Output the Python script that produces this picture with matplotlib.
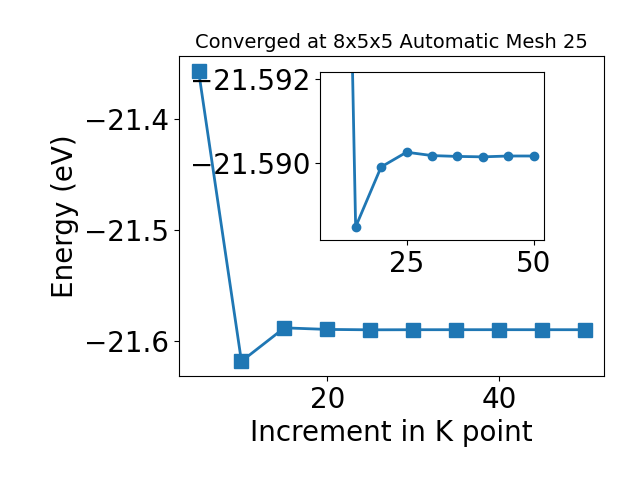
import numpy as np
import matplotlib.pyplot as plt
from matplotlib.ticker import MultipleLocator

# K point convergence test
kpoints = [5, 10, 15, 20, 25, 30, 35, 40, 45, 50]
energy = [-21.3563, -21.6187, -21.58849, -21.58991, -21.59026,
          -21.59018, -21.59016, -21.59015, -21.59017, -21.59017]

plt.rcParams['font.size'] = 20

fig = plt.figure(figsize=(6.4, 4.8))
ax = fig.add_subplot(111)
ax.plot(kpoints, energy, marker='s', markersize=10, linewidth=2)
ax.set_xlabel('Increment in K point')
ax.set_ylabel('Energy (eV)')
ax.set_title('Converged at 8x5x5 Automatic Mesh 25', fontsize=14)
ax.xaxis.set_major_locator(MultipleLocator(20))
fig.subplots_adjust(left=0.280, right=0.944, top=0.883, bottom=0.217)

# zoom on the converged region
ins = fig.add_axes([0.5, 0.5, 0.35, 0.35])
ins.plot(kpoints[1:], energy[1:], marker='o', markersize=6, linewidth=2)
ins.set_ylim(-21.58818, -21.59216)

plt.savefig('out.png', dpi=100)
